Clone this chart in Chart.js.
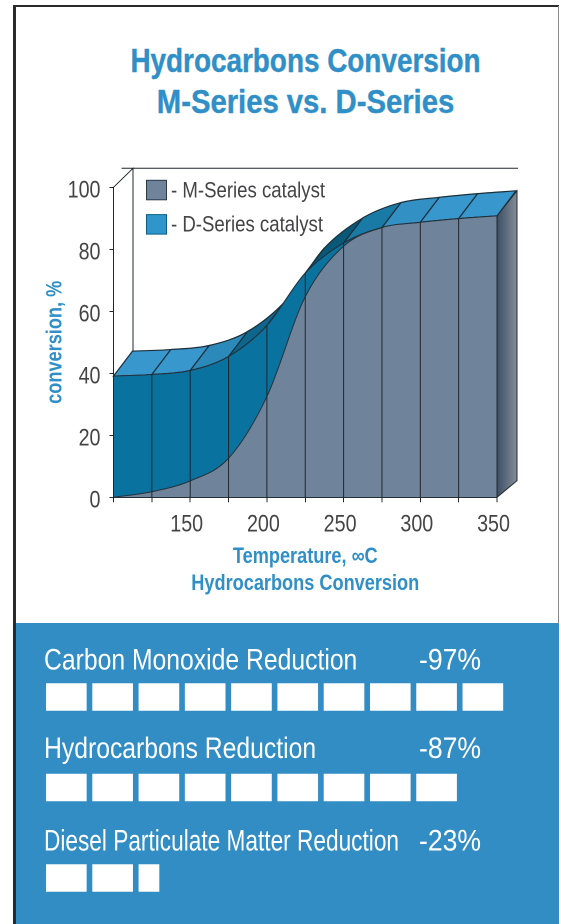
<!DOCTYPE html>
<html>
<head>
<meta charset="utf-8">
<title>Hydrocarbons Conversion</title>
<script src="https://cdn.jsdelivr.net/npm/chart.js@4"></script>
<style>
    html, body { margin: 0; padding: 0; background: #fff; }
    body { position: relative; width: 561px; height: 924px; overflow: hidden; }
    #frame { position: absolute; left: 13px; top: 5px; width: 543px; height: 925px; border: solid #2b2b2d; border-width: 2.5px 0 0 3px; }
    #edge { position: absolute; left: 558px; top: 6px; width: 1px; height: 618px; background: #8a8a8a; }
    .title { position: absolute; left: 0; width: 611px; margin: 0; text-align: center; color: #2f8fc6;
             font: bold 34px/41px "Liberation Sans", sans-serif; -webkit-text-stroke: 0.4px #2f8fc6; transform-origin: 305.5px 0; }
    #title1 { top: 40px; transform: scaleX(0.82); }
    #title2 { top: 81px; transform: scaleX(0.86); }
    #panel { position: absolute; left: 16px; top: 623px; width: 543px; height: 301px; background: #318dc4; }
    #main { position: absolute; left: 0; top: 0; }
    #bars { position: absolute; left: 0; top: 623px; }
</style>
</head>
<body>
<div id="panel"></div>
<div id="frame"></div>
<div id="edge"></div>
<h1 class="title" id="title1">Hydrocarbons Conversion</h1>
<h1 class="title" id="title2">M-Series vs. D-Series</h1>
<canvas id="main" width="561" height="623"></canvas>
<canvas id="bars" width="561" height="301"></canvas>
<script>
// ============================================
// DATA
// ============================================
const temperatures = [100, 125, 150, 175, 200, 225, 250, 275, 300, 325, 350];
const mSeries = [0, 1.8, 5.3, 12.6, 32.5, 64.7, 81, 87, 88.7, 89.9, 90.8];
const dSeries = [39.1, 39.6, 40.9, 45.4, 55.4, 72.3, 82, 87, 88.7, 89.9, 90.8];
const xTickLabels = ['', '', '150', '', '200', '', '250', '', '300', '', '350'];
const legendLabels = ['- M-Series catalyst', '- D-Series catalyst'];

const reductionNames = ['Carbon Monoxide Reduction', 'Hydrocarbons Reduction', 'Diesel Particulate Matter Reduction'];
const reductionPercents = ['-97%', '-87%', '-23%'];
const reductionBlocks = [10, 9, 2.57];

// ============================================
// STYLE
// ============================================
const FONT = '"Liberation Sans", sans-serif';
const BLUE = '#2f8fc6';
const TEXT = '#444446';
const LINE = '#22262c';
const ribbonColors = ['#3898ce', '#3898ce', '#2c8abb', '#0e668c', '#0a5676', '#0a5878', '#1a7aa6', '#3290c4', '#3898ce', '#3898ce'];
const nameSqueeze = [0.824, 0.824, 0.755];
const nameLift = [27.6, 29.5, 27.6];

// depth of the fake 3D box, in pixels
const RIBBON_DX = 19, RIBBON_DY = 25;
const WALL_DX = 19.5, WALL_DY = 19;
const FLOOR_DY = 16.6;

// no condensed font installed: squeeze every canvas text through maxWidth
const rawFillText = CanvasRenderingContext2D.prototype.fillText;
CanvasRenderingContext2D.prototype.fillText = function (text, x, y, maxWidth) {
    const full = this.measureText(text).width;
    const squeeze = this.font.includes('bold') ? 0.825 : 0.82;
    rawFillText.call(this, text, x, y, maxWidth < full ? maxWidth : full * squeeze);
};

// ============================================
// PSEUDO 3D
// ============================================
function traceRibbon(ctx, a, b) {
    ctx.beginPath();
    ctx.moveTo(a.x, a.y);
    ctx.bezierCurveTo(a.cp2x, a.cp2y, b.cp1x, b.cp1y, b.x, b.y);
    ctx.lineTo(b.x + RIBBON_DX, b.y - RIBBON_DY);
    ctx.bezierCurveTo(b.cp1x + RIBBON_DX, b.cp1y - RIBBON_DY, a.cp2x + RIBBON_DX, a.cp2y - RIBBON_DY, a.x + RIBBON_DX, a.y - RIBBON_DY);
    ctx.closePath();
}

const depthPlugin = {
    id: 'depth',
    beforeDatasetsDraw(chart) {
        const { ctx, chartArea: area } = chart;
        const top = chart.getDatasetMeta(1).data;
        const front = chart.getDatasetMeta(0).data;
        const last = front[front.length - 1];

        ctx.save();
        // back wall
        ctx.strokeStyle = LINE;
        ctx.lineWidth = 1;
        ctx.beginPath();
        ctx.moveTo(area.left, area.top);
        ctx.lineTo(area.left + WALL_DX, area.top - WALL_DY);
        ctx.lineTo(area.left + WALL_DX, area.bottom);
        ctx.moveTo(area.left + 8, area.top - WALL_DY);
        ctx.lineTo(area.right + 21, area.top - WALL_DY);
        ctx.stroke();

        // right side
        const side = ctx.createLinearGradient(area.right, 0, area.right + RIBBON_DX + 1, 0);
        side.addColorStop(0, '#3d4f66');
        side.addColorStop(1, '#848e98');
        ctx.fillStyle = side;
        ctx.beginPath();
        ctx.moveTo(last.x, last.y);
        ctx.lineTo(last.x + RIBBON_DX + 1, last.y - RIBBON_DY);
        ctx.lineTo(last.x + RIBBON_DX + 1, area.bottom - FLOOR_DY);
        ctx.lineTo(last.x, area.bottom);
        ctx.closePath();
        ctx.fill();
        ctx.stroke();

        // top surface, one facet per interval
        ctx.lineWidth = 1.2;
        for (let i = 0; i < top.length - 1; i++) {
            traceRibbon(ctx, top[i], top[i + 1]);
            ctx.fillStyle = ribbonColors[i];
            ctx.fill();
            ctx.strokeStyle = '#1c2f3a';
            ctx.stroke();
        }
        ctx.restore();
    },
    afterDatasetsDraw(chart) {
        const { ctx, chartArea: area } = chart;
        const m = chart.getDatasetMeta(0).data;
        const d = chart.getDatasetMeta(1).data;

        ctx.save();
        ctx.strokeStyle = LINE;
        ctx.lineWidth = 1;
        ctx.beginPath();
        m.forEach((p, i) => {
            ctx.moveTo(p.x, area.bottom);
            ctx.lineTo(p.x, Math.min(p.y, d[i].y));
        });
        ctx.stroke();

        // legend
        ctx.font = '22px ' + FONT;
        ctx.textBaseline = 'alphabetic';
        const swatches = ['#6f849b', '#3095cb'];
        const rims = ['#2c3a4a', '#0a6088'];
        legendLabels.forEach((text, i) => {
            const y = area.top - 7 + i * 34.3;
            ctx.fillStyle = swatches[i];
            ctx.strokeStyle = rims[i];
            ctx.fillRect(146.5, y, 20, 19.5);
            ctx.strokeRect(146.5, y, 20, 19.5);
            ctx.fillStyle = TEXT;
            ctx.fillText(text, 171, y + 17, ctx.measureText(text).width * 0.846);
        });
        ctx.restore();
    }
};

new Chart(document.getElementById('main'), {
    type: 'line',
    data: {
        datasets: [
            { label: 'M-Series catalyst', data: temperatures.map((t, i) => ({ x: t, y: mSeries[i] })), backgroundColor: '#6f849b' },
            { label: 'D-Series catalyst', data: temperatures.map((t, i) => ({ x: t, y: dSeries[i] })), backgroundColor: '#0a729e' }
        ]
    },
    options: {
        responsive: false,
        animation: false,
        devicePixelRatio: 2,
        layout: { padding: { left: 0, right: 64, top: 187.3, bottom: 0 } },
        elements: {
            point: { radius: 0 },
            line: { fill: 'origin', cubicInterpolationMode: 'monotone', borderColor: '#26323c', borderWidth: 1 }
        },
        plugins: {
            legend: { display: false },
            tooltip: { enabled: false }
        },
        scales: {
            x: {
                type: 'linear',
                min: 100,
                max: 350,
                afterFit: s => { s.height = 125.7; },
                afterBuildTicks: s => { s.ticks = temperatures.map(v => ({ value: v })); },
                border: { color: LINE, width: 1 },
                grid: { drawOnChartArea: false, color: LINE, tickLength: 5 },
                ticks: {
                    autoSkip: false,
                    maxRotation: 0,
                    padding: 8,
                    labelOffset: -3.5,
                    color: TEXT,
                    font: { family: FONT, size: 24 },
                    callback: (v, i) => xTickLabels[i]
                },
                title: {
                    display: true,
                    text: ['Temperature, ∞C', 'Hydrocarbons Conversion'],
                    color: BLUE,
                    padding: { top: 0, bottom: 26 },
                    font: { family: FONT, size: 22, weight: 'bold', lineHeight: 1.21 }
                }
            },
            y: {
                min: 0,
                max: 100,
                afterFit: s => { s.width = 113.5; },
                border: { color: LINE, width: 1 },
                grid: { drawOnChartArea: false, color: LINE, tickLength: 4 },
                ticks: {
                    stepSize: 20,
                    padding: 9,
                    color: TEXT,
                    // the empty first line pushes the digits down off the tick
                    font: { family: FONT, size: 24, lineHeight: '7px' },
                    callback: v => ['', String(v)]
                },
                title: {
                    display: true,
                    text: 'conversion, %',
                    color: BLUE,
                    padding: { top: 42, bottom: 0 },
                    font: { family: FONT, size: 22, weight: 'bold' }
                }
            }
        }
    },
    plugins: [depthPlugin]
});

// ============================================
// REDUCTION PANEL
// ============================================
const panelLabels = {
    id: 'panelLabels',
    afterDraw(chart) {
        const { ctx, scales } = chart;
        ctx.save();
        ctx.fillStyle = '#fff';
        ctx.font = '30px ' + FONT;
        reductionNames.forEach((name, i) => {
            const y = scales.y.getPixelForTick(i) - nameLift[i];
            ctx.fillText(name, 44, y, ctx.measureText(name).width * nameSqueeze[i]);
            const pct = reductionPercents[i];
            ctx.fillText(pct, 419, y, ctx.measureText(pct).width * 0.886);
        });
        ctx.restore();
    }
};

const blockDatasets = [];
for (let j = 0; j < 10; j++) {
    blockDatasets.push({
        data: reductionBlocks.map(c => (c > j ? Math.min(c - j, 1) : null)),
        backgroundColor: '#fff',
        borderColor: '#318dc4',
        borderWidth: { left: 3.15, right: 3.15, top: 0, bottom: 0 },
        borderSkipped: false,
        barThickness: 27.5
    });
}

new Chart(document.getElementById('bars'), {
    type: 'bar',
    data: { labels: reductionNames, datasets: blockDatasets },
    options: {
        indexAxis: 'y',
        responsive: false,
        animation: false,
        devicePixelRatio: 2,
        layout: { padding: { left: 43.2, right: 55, top: 28.7, bottom: 0.8 } },
        plugins: { legend: { display: false }, tooltip: { enabled: false } },
        scales: {
            x: { display: false, stacked: true, min: 0, max: 10 },
            y: { display: false, stacked: true }
        }
    },
    plugins: [panelLabels]
});
</script>
</body>
</html>
